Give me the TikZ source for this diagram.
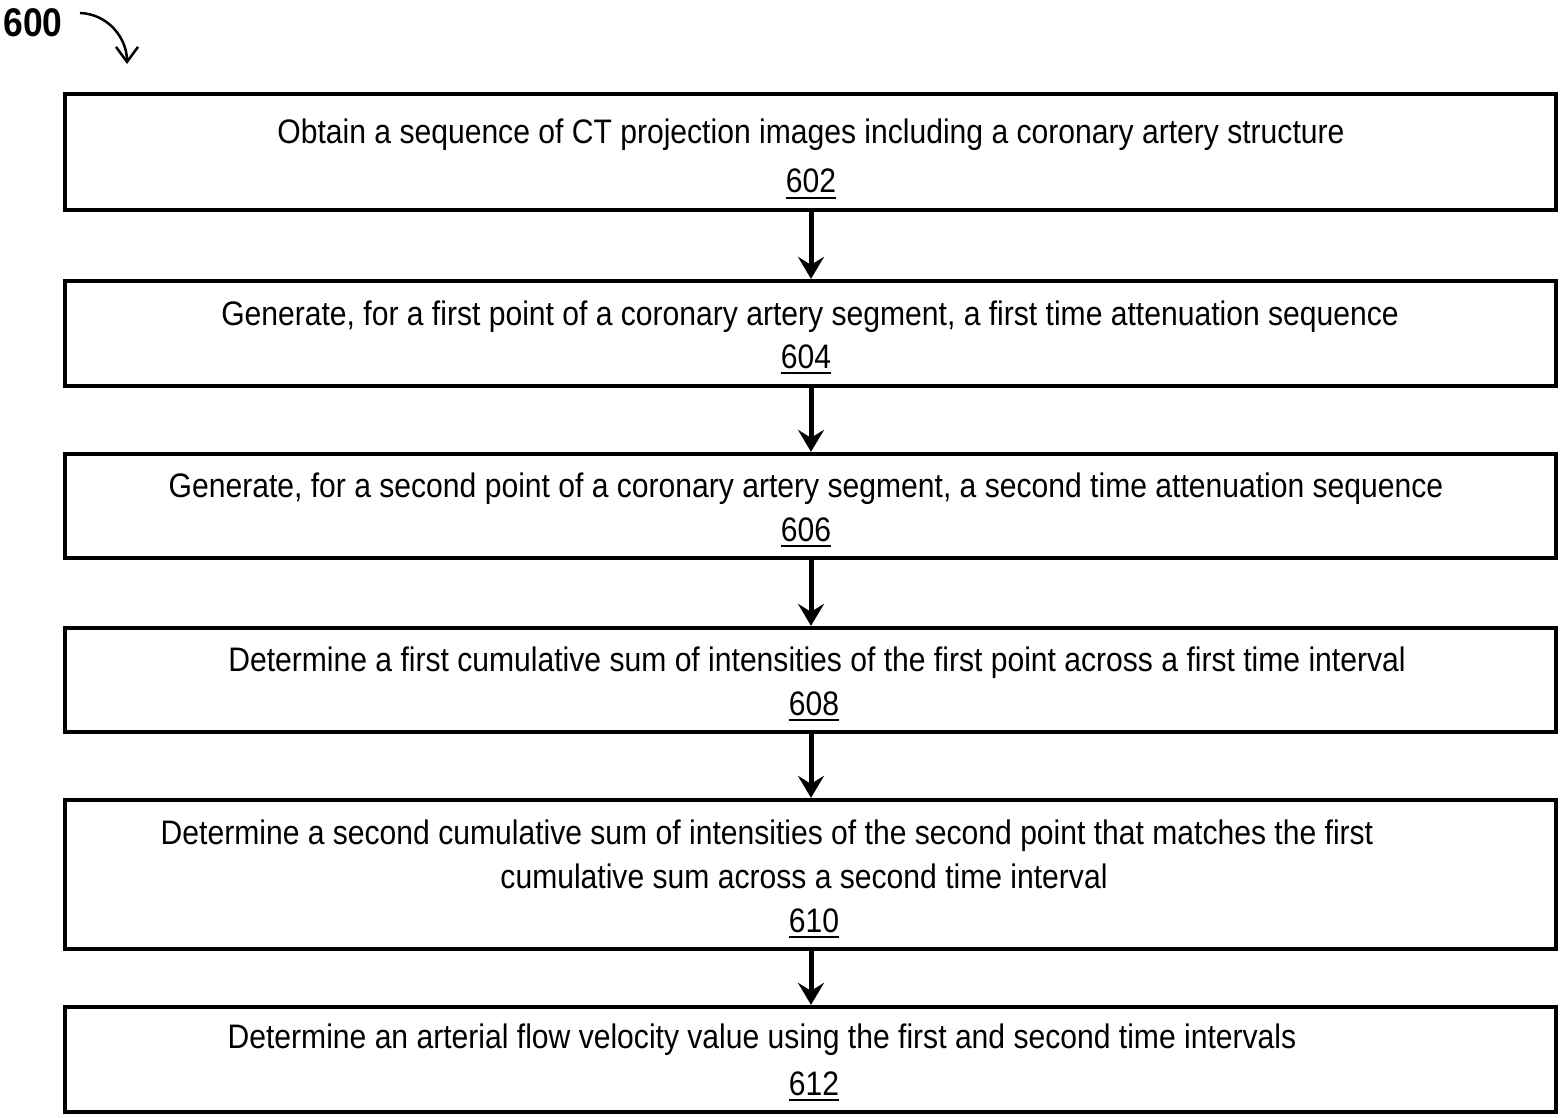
\documentclass[tikz,border=0pt]{standalone}
\usepackage{fontspec}
\setmainfont{Liberation Sans}[FakeStretch=0.885]
\usetikzlibrary{arrows.meta}
\newcommand{\stepnum}[1]{\tikz[baseline=0pt]{\node[inner sep=0pt, anchor=base] (u) {#1}; \draw[line width=2pt] ([yshift=-5pt]u.base west) -- ([yshift=-5pt]u.base east);}}
\begin{document}
\begin{tikzpicture}[x=1pt,y=-1pt,
  stepbox/.style={draw=black, line width=4.3pt, rectangle, minimum width=1491pt, inner sep=0pt},
  steptext/.style={anchor=base, inner sep=0pt, font=\fontsize{34}{40}\selectfont},
  flow/.style={line width=5pt, -{Stealth[length=22pt,width=26pt,inset=8pt]}}]
\useasboundingbox (0,0) rectangle (1564,1118);

% reference numeral and pointer
\node[anchor=center, inner sep=0pt, font=\fontsize{40}{44}\selectfont\bfseries] (lbl) at (33,23) {600};
\coordinate (p0) at (80,13);
\coordinate (p1) at (127,64);
\draw[line width=2.5pt, -{Straight Barb[length=15pt,width=22pt]}] (p0) .. controls (108,14) and (127,38) .. (p1);

% step boxes
\node[stepbox, minimum height=116pt] (b1) at (810.5,152) {};
\node[stepbox, minimum height=105pt] (b2) at (810.5,333.5) {};
\node[stepbox, minimum height=104pt] (b3) at (810.5,506) {};
\node[stepbox, minimum height=104pt] (b4) at (810.5,680) {};
\node[stepbox, minimum height=149pt] (b5) at (810.5,874.5) {};
\node[stepbox, minimum height=105pt] (b6) at (810.5,1059.5) {};

% step texts
\node[steptext] (t1) at (811,144) {Obtain a sequence of CT projection images including a coronary artery structure};
\node[steptext] (n1) at (811,193) {\stepnum{602}};
\node[steptext] (t2) at (810,325) {Generate, for a first point of a coronary artery segment, a first time attenuation sequence};
\node[steptext] (n2) at (806,368) {\stepnum{604}};
\node[steptext] (t3) at (806,497) {Generate, for a second point of a coronary artery segment, a second time attenuation sequence};
\node[steptext] (n3) at (806,541) {\stepnum{606}};
\node[steptext] (t4) at (817,671) {Determine a first cumulative sum of intensities of the first point across a first time interval};
\node[steptext] (n4) at (814,715) {\stepnum{608}};
\node[steptext] (t5a) at (767,844) {Determine a second cumulative sum of intensities of the second point that matches the first};
\node[steptext] (t5b) at (804,888) {cumulative sum across a second time interval};
\node[steptext] (n5) at (814,932) {\stepnum{610}};
\node[steptext] (t6) at (762,1048) {Determine an arterial flow velocity value using the first and second time intervals};
\node[steptext] (n6) at (814,1095) {\stepnum{612}};

% connectors
\coordinate (ax) at (811,0);
\draw[flow] (b1.south -| ax) -- (b2.north -| ax);
\draw[flow] (b2.south -| ax) -- (b3.north -| ax);
\draw[flow] (b3.south -| ax) -- (b4.north -| ax);
\draw[flow] (b4.south -| ax) -- (b5.north -| ax);
\draw[flow] (b5.south -| ax) -- (b6.north -| ax);
\end{tikzpicture}
\end{document}
